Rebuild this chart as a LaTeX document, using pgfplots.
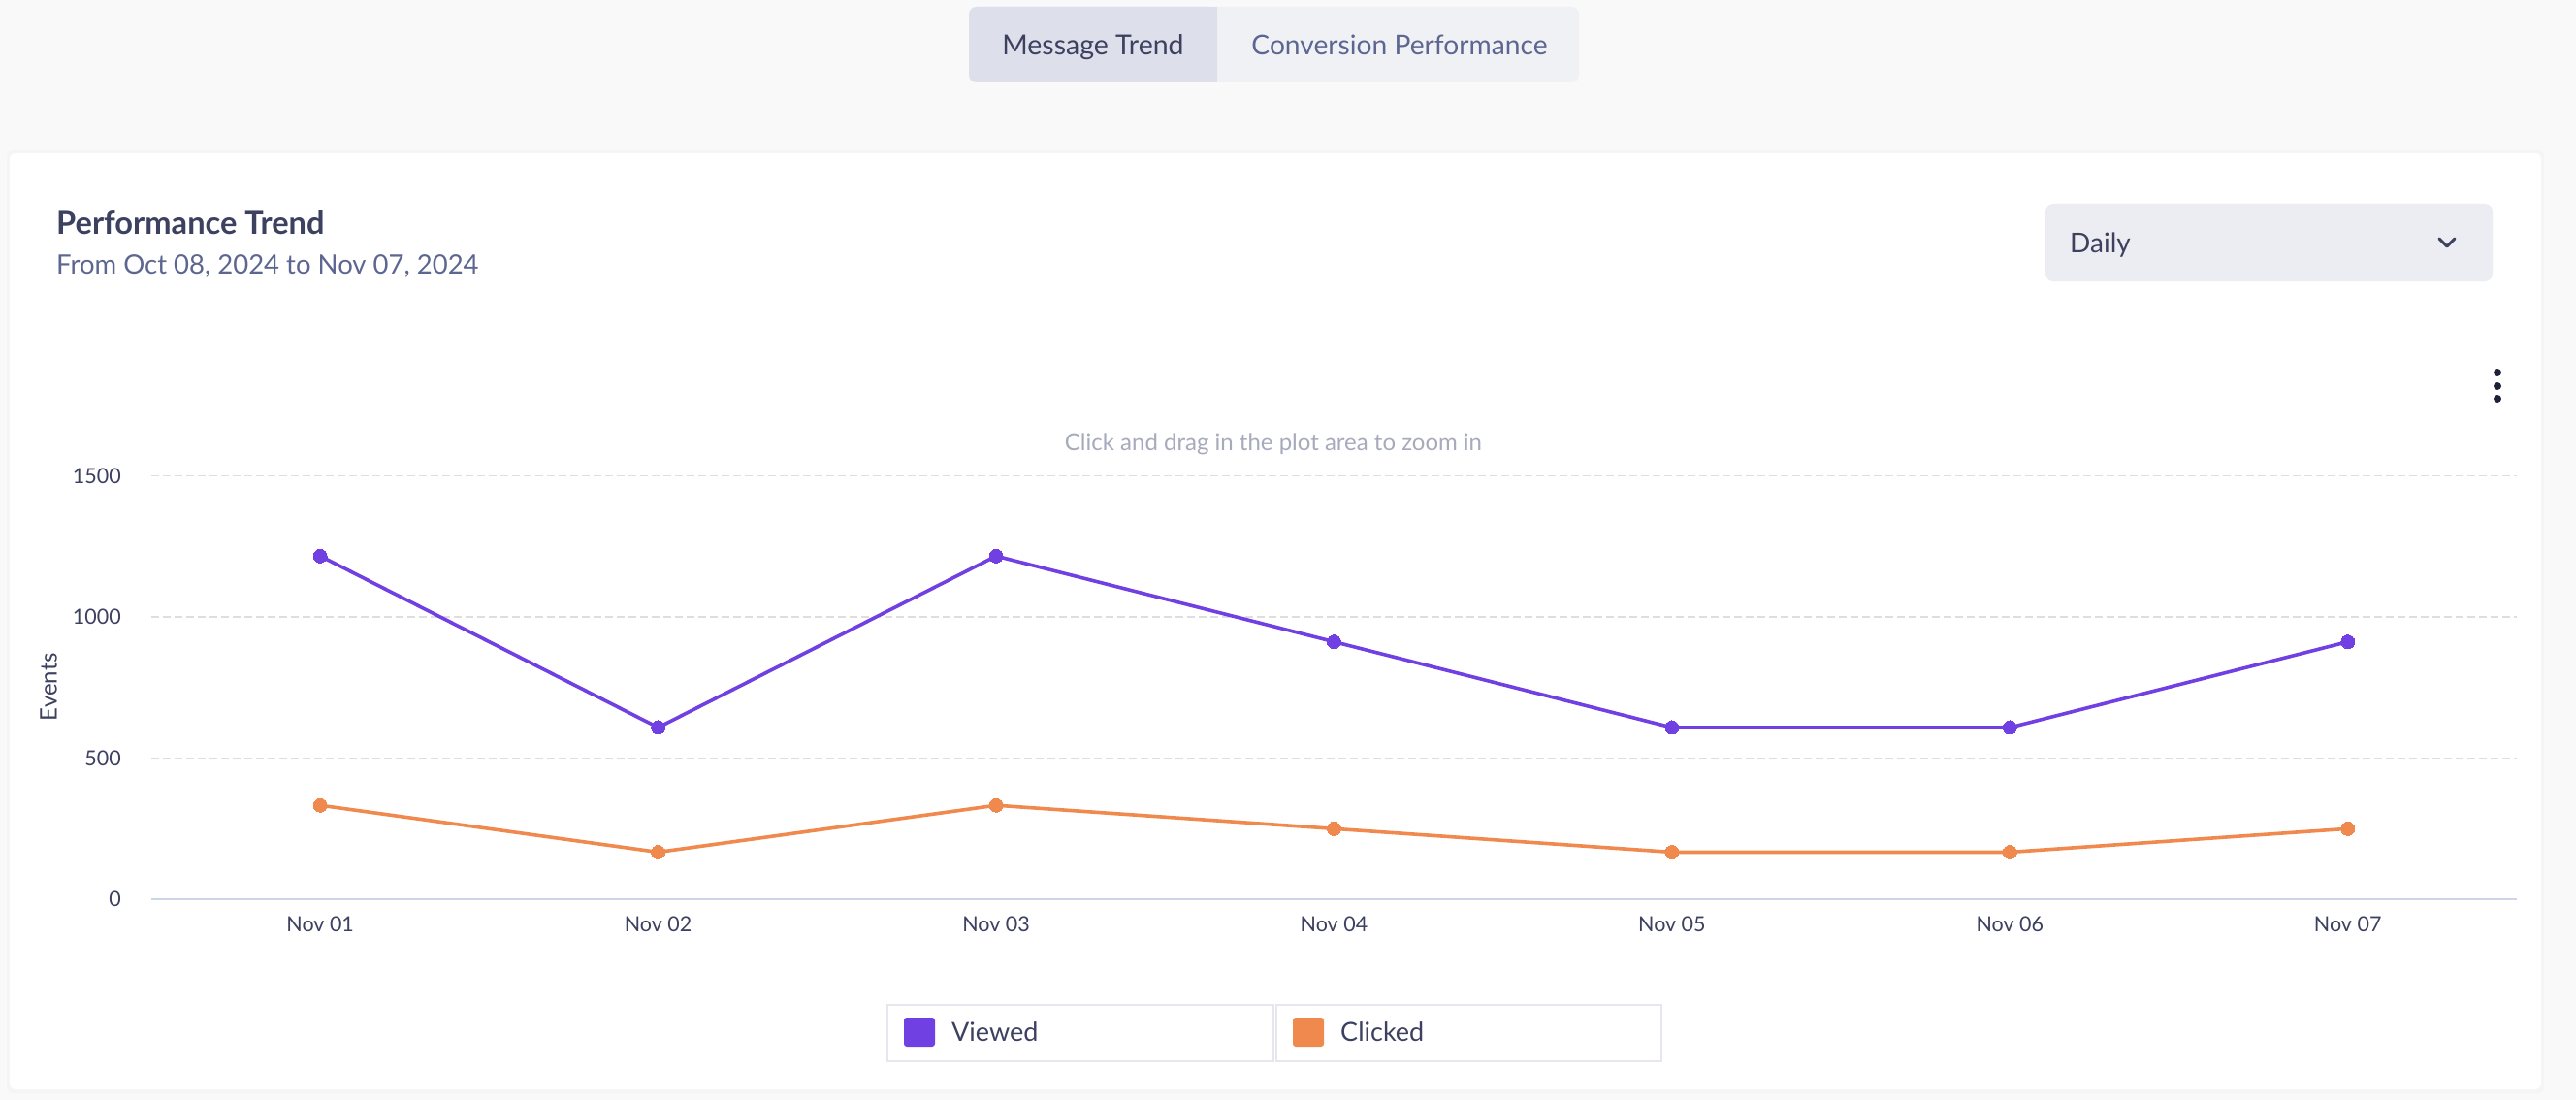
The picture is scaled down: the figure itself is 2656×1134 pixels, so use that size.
\documentclass[border=0pt]{standalone}
\usepackage{pgfplots}
\pgfplotsset{compat=1.18}
\usepackage{fontspec}
\setmainfont{Lato}
\definecolor{bg}{HTML}{F9F9FA}
\definecolor{tabA}{HTML}{DDDFEA}
\definecolor{tabI}{HTML}{F0F1F5}
\definecolor{dark}{HTML}{3D4160}
\definecolor{sub}{HTML}{5D6690}
\definecolor{dd}{HTML}{ECEDF2}
\definecolor{hint}{HTML}{A7AABB}
\definecolor{gridc}{HTML}{DEDEDE}
\definecolor{axisc}{HTML}{CCD6EB}
\definecolor{viewed}{HTML}{7140E3}
\definecolor{clicked}{HTML}{F0894D}
\definecolor{legb}{HTML}{E6E7EC}
\definecolor{dots}{HTML}{1E2236}
\begin{document}
\begin{tikzpicture}[x=1pt,y=1pt]
\useasboundingbox (0,0) rectangle (2656,-1134);
\fill[bg] (0,0) rectangle (2656,-1134);
% card shadow and card
\fill[black!4, rounded corners=6pt] (7,-155) rectangle (2623,-1127);
\fill[white, rounded corners=6pt] (10,-158) rectangle (2620,-1123);
% tabs
\fill[tabI, rounded corners=8pt] (999,-7) rectangle (1628,-85);
\fill[tabA, rounded corners=8pt] (999,-7) rectangle (1255,-85);
\fill[tabA] (1235,-7) rectangle (1255,-85);
\node[anchor=base, inner sep=0pt, text=dark, font=\fontsize{28.5}{32}\selectfont] at (1127,-57) {Message Trend};
\node[anchor=base, inner sep=0pt, text=sub, font=\fontsize{28.2}{32}\selectfont] at (1443,-57) {Conversion Performance};
% title
\node[anchor=base west, inner sep=0pt, text=dark, font=\fontsize{32.6}{36}\selectfont\bfseries] at (58,-242) {Performance Trend};
\node[anchor=base west, inner sep=0pt, text=sub, font=\fontsize{27.5}{30}\selectfont] at (58,-283) {From Oct 08, 2024 to Nov 07, 2024};
% dropdown
\fill[dd, rounded corners=8pt] (2109,-210) rectangle (2570,-290);
\node[anchor=base west, inner sep=0pt, text=dark, font=\fontsize{28}{30}\selectfont] at (2134,-261) {Daily};
\draw[dark, line width=3pt, line cap=round, line join=round] (2515,-246) -- (2523,-254) -- (2531,-246);
% menu dots
\fill[dots] (2575,-384) circle (4);
\fill[dots] (2575,-398) circle (4);
\fill[dots] (2575,-411) circle (4);
% hint
\node[anchor=base, inner sep=0pt, text=hint, font=\fontsize{24}{28}\selectfont] at (1313,-464) {Click and drag in the plot area to zoom in};
% y label
\node[rotate=90, anchor=center, inner sep=0pt, text=dark, font=\fontsize{24}{28}\selectfont] at (50,-708) {Events};
\begin{axis}[
  at={(156pt,-926.7pt)}, anchor=south west,
  width=2439pt, height=436pt, scale only axis,
  xmin=-0.5, xmax=6.5, ymin=0, ymax=1500,
  axis x line*=bottom, axis y line*=left,
  y axis line style={draw=none},
  x axis line style={draw=axisc, line width=2pt, -},
  major tick length=0pt,
  ytick={0,500,1000,1500},
  xtick={0,1,2,3,4,5,6},
  xticklabels={Nov 01,Nov 02,Nov 03,Nov 04,Nov 05,Nov 06,Nov 07},
  ymajorgrids,
  grid style={draw=gridc, line width=1.5pt, dash pattern=on 8pt off 4pt},
  /pgf/number format/assume math mode=true,
  /pgf/number format/1000 sep={},
  tick label style={font=\fontsize{21.5}{24}\selectfont, text=dark},
  yticklabel style={inner sep=0pt, anchor=east, xshift=-31pt},
  xticklabel style={inner sep=0pt, anchor=north, yshift=-18pt},
  clip=false,
]
\addplot[color=viewed, line width=3.6pt, mark=*, mark size=7pt, mark options={fill=viewed, draw=viewed, line width=0pt}] coordinates {
(0,1216) (1,608) (2,1216) (3,912) (4,608) (5,608) (6,912)};
\addplot[color=clicked, line width=3.6pt, mark=*, mark size=7pt, mark options={fill=clicked, draw=clicked, line width=0pt}] coordinates {
(0,332) (1,166) (2,332) (3,249) (4,166) (5,166) (6,249)};
\end{axis}
% legend
\draw[legb, line width=2pt] (915,-1036) rectangle (1313,-1094);
\draw[legb, line width=2pt] (1316,-1036) rectangle (1713,-1094);
\fill[viewed, rounded corners=3pt] (932,-1049) rectangle (964,-1079);
\fill[clicked, rounded corners=3pt] (1333,-1049) rectangle (1365,-1079);
\node[anchor=base west, inner sep=0pt, text=dark, font=\fontsize{27}{30}\selectfont] at (981,-1073) {Viewed};
\node[anchor=base west, inner sep=0pt, text=dark, font=\fontsize{27}{30}\selectfont] at (1382,-1073) {Clicked};
\end{tikzpicture}
\end{document}
